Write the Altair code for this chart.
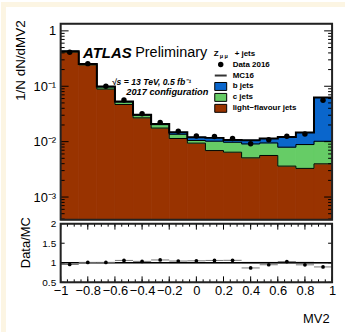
import altair as alt
import numpy as np
import pandas as pd

# ---- data: normalised MV2 distribution, 15 equal bins on [-1, 1] ----
n_bins = 15
edges = np.linspace(-1.0, 1.0, n_bins + 1)

light_jets = [0.415, 0.243, 0.089, 0.0469, 0.0269, 0.0176, 0.0114, 0.0094,
              0.0069, 0.00645, 0.0051, 0.00563, 0.00362, 0.00329, 0.00398]
c_jets = [0.012, 0.009, 0.0085, 0.0052, 0.0032, 0.0027, 0.0022, 0.0011,
          0.0033, 0.0033, 0.0040, 0.00385, 0.00432, 0.00558, 0.00618]
b_jets = [0.002, 0.0015, 0.0013, 0.0010, 0.0006, 0.0005, 0.00115, 0.0015,
          0.0015, 0.00098, 0.0015, 0.00189, 0.0042, 0.00569, 0.0525]
data_2016 = [0.41, 0.256, 0.0998, 0.0563, 0.0318, 0.0223, 0.0154, 0.0126,
             0.0124, 0.0114, 0.0092, 0.0108, 0.0125, 0.0138, 0.0560]
mc_stat_rel = [0.01, 0.01, 0.012, 0.012, 0.015, 0.015, 0.02, 0.02,
               0.02, 0.02, 0.025, 0.025, 0.025, 0.03, 0.02]

x_tick_labels = [-1, -0.8, -0.6, -0.4, -0.2, 0, 0.2, 0.4, 0.6, 0.8, 1]
ratio_tick_labels = [0.5, 1, 1.5, 2]
log_tick_labels = [0.001, 0.01, 0.1, 1]

# ---- layout / style ----
W, H_TOP, H_RAT = 273, 197, 59
Y_MIN, Y_MAX = 3.9e-4, 1.34
FONT = "Liberation Sans"
COL_LIGHT, COL_C, COL_B = "#993300", "#66cc66", "#0a66cc"
CREAM = "#fcf5e3"

bins = pd.DataFrame({
    "lo": edges[:-1], "hi": edges[1:], "mid": 0.5 * (edges[:-1] + edges[1:]),
    "light": light_jets, "c": c_jets, "b": b_jets,
    "data": data_2016, "stat": mc_stat_rel,
})
bins["lc"] = bins["light"] + bins["c"]
bins["total"] = bins["lc"] + bins["b"]
bins["ratio"] = bins["data"] / bins["total"]
bins["band_lo"] = 1 - bins["stat"]
bins["band_hi"] = 1 + bins["stat"]

# step outlines need one extra point at the upper edge
steps = pd.DataFrame({"x": edges})
for col in ["light", "lc", "total"]:
    steps[col] = list(bins[col]) + [bins[col].iloc[-1]]

one = pd.DataFrame({"k": [0]})

xs = alt.Scale(domain=[-1, 1], nice=False, zero=False)
ys_top = alt.Scale(type="log", domain=[Y_MIN, Y_MAX], nice=False)
ys_rat = alt.Scale(domain=[0.5, 2], nice=False, zero=False)

# the same axis object goes on every layer sharing a scale, so they merge
AX_TOP_Y = alt.Axis(
    values=log_tick_labels,
    labelExpr="datum.value >= 1 ? '1' : datum.value >= 0.1 ? '10\u207b\u00b9' : "
              "datum.value >= 0.01 ? '10\u207b\u00b2' : '10\u207b\u00b3'",
    tickSize=0, domain=False, grid=False, labelFontSize=13, labelPadding=5,
    labelColor="black", labelFont=FONT,
    title="1/N dN/dMV2", titleFont=FONT, titleFontSize=13.5, titleFontWeight="normal",
    titleColor="black", titleAngle=-90, titleAlign="right", titleBaseline="middle",
    titleX=-40, titleY=-4)
AX_RAT_X = alt.Axis(
    values=x_tick_labels,
    labelExpr="datum.value < 0 ? '\u2212' + format(-datum.value, '~g') : format(datum.value, '~g')",
    tickSize=0, domain=False, grid=False, labelFontSize=13, labelPadding=2,
    labelFlush=False, labelOverlap=False, labelColor="black", labelFont=FONT,
    title="MV2", titleFont=FONT, titleFontSize=13, titleFontWeight="normal",
    titleColor="black", titleAnchor="end", titleAlign="right", titleBaseline="middle",
    titleX=270, titleY=36)
AX_RAT_Y = alt.Axis(
    values=ratio_tick_labels, labelExpr="format(datum.value, '~g')",
    tickSize=0, domain=False, grid=False,
    labelFontSize=10, labelPadding=5, labelColor="black", labelFont=FONT,
    title="Data/MC", titleFont=FONT, titleFontSize=13, titleFontWeight="normal",
    titleColor="black", titleAngle=-90, titleAlign="right", titleBaseline="middle",
    titleX=-35, titleY=-7)

# tick positions for the inward-pointing frame ticks
log_minor = [k * 10.0 ** e for e in range(-4, 1) for k in range(2, 10)
             if Y_MIN <= k * 10.0 ** e <= Y_MAX]
x_minor = [round(-1 + 0.05 * i, 3) for i in range(41)]


def rules_y(values, scale, axis, length, right=False):
    df = pd.DataFrame({"v": values})
    x0 = W - length if right else 0
    x1 = W if right else length
    return alt.Chart(df).mark_rule(color="black", strokeWidth=1).encode(
        y=alt.Y("v:Q", scale=scale, axis=axis),
        x=alt.value(x0), x2=alt.value(x1))


def rules_x(values, height, length, top=True):
    df = pd.DataFrame({"v": values})
    y0 = 0 if top else height - length
    y1 = length if top else height
    return alt.Chart(df).mark_rule(color="black", strokeWidth=1).encode(
        x=alt.X("v:Q", scale=xs, axis=AX_RAT_X),
        y=alt.value(y0), y2=alt.value(y1))


def frame(height):
    return alt.Chart(one).mark_rect(filled=False, stroke="#222222", strokeWidth=2).encode(
        x=alt.value(0), x2=alt.value(W), y=alt.value(0), y2=alt.value(height))


def text(t, x, y, size, weight="normal", style="normal", align="left"):
    return alt.Chart(one).mark_text(
        text=t, font=FONT, fontSize=size, fontWeight=weight, fontStyle=style,
        align=align, baseline="middle", color="black").encode(
        x=alt.value(x), y=alt.value(y))


def box(x0, x1, y0, y1, fill):
    return alt.Chart(one).mark_rect(fill=fill, stroke="black", strokeWidth=1).encode(
        x=alt.value(x0), x2=alt.value(x1), y=alt.value(y0), y2=alt.value(y1))


# ---- top panel ----
cream_top = alt.Chart(one).mark_rect(color=CREAM).encode(
    x=alt.value(-60), x2=alt.value(W + 13), y=alt.value(-22), y2=alt.value(-17))
cream_left_top = alt.Chart(one).mark_rect(color=CREAM).encode(
    x=alt.value(-60), x2=alt.value(-55), y=alt.value(-17), y2=alt.value(H_TOP + 2))

base = alt.Chart(bins)
# a same-coloured hairline stroke hides the seams between neighbouring bins
light_rect = base.mark_rect(fill=COL_LIGHT, stroke=COL_LIGHT, strokeWidth=0.8).encode(
    x=alt.X("lo:Q", scale=xs, axis=None), x2="hi:Q",
    y=alt.Y("light:Q", scale=ys_top, axis=AX_TOP_Y),
    y2=alt.value(H_TOP))
c_rect = base.mark_rect(fill=COL_C, stroke=COL_C, strokeWidth=0.8).encode(
    x=alt.X("lo:Q", scale=xs, axis=None), x2="hi:Q",
    y=alt.Y("lc:Q", scale=ys_top, axis=AX_TOP_Y), y2="light:Q")
b_rect = base.mark_rect(fill=COL_B, stroke=COL_B, strokeWidth=0.8).encode(
    x=alt.X("lo:Q", scale=xs, axis=None), x2="hi:Q",
    y=alt.Y("total:Q", scale=ys_top, axis=AX_TOP_Y), y2="lc:Q")


def step_line(col, width):
    return alt.Chart(steps).mark_line(interpolate="step-after", color="black",
                                      strokeWidth=width).encode(
        x=alt.X("x:Q", scale=xs, axis=None),
        y=alt.Y(f"{col}:Q", scale=ys_top, axis=AX_TOP_Y))


data_pts = base.mark_circle(color="black", size=30, opacity=1).encode(
    x=alt.X("mid:Q", scale=xs, axis=None),
    y=alt.Y("data:Q", scale=ys_top, axis=AX_TOP_Y))

LX0, LX1, LTX = 155, 167, 173
legend_layers = [
    text("Z", 154, 30, 8, "bold"),
    text("\u03bc \u03bc", 160, 32, 5.5, "bold"),
    text("+ jets", 175, 30, 8, "bold"),
    alt.Chart(one).mark_circle(color="black", size=30, opacity=1).encode(
        x=alt.value(161), y=alt.value(41)),
    text("Data 2016", LTX, 41, 8, "bold"),
    alt.Chart(one).mark_rule(color="#333333", strokeWidth=2).encode(
        x=alt.value(LX0), x2=alt.value(LX1), y=alt.value(52)),
    text("MC16", LTX, 52, 8, "bold"),
    box(LX0, LX1, 59, 67, COL_B), text("b jets", LTX, 63, 8, "bold"),
    box(LX0, LX1, 70, 78, COL_C), text("c jets", LTX, 74, 8, "bold"),
    box(LX0, LX1, 81, 89, COL_LIGHT), text("light\u2212flavour jets", LTX, 85, 8, "bold"),
]

annot_layers = [
    text("ATLAS", 22.5, 29, 15, "bold", "italic"),
    text("Preliminary", 75, 29, 14.5),
    text("\u221as  = 13 TeV, 0.5 fb\u207b\u00b9", 51.5, 58.5, 8.7, "bold", "italic"),
    text("2017 configuration", 66, 69, 9.3, "bold", "italic"),
]

top = alt.layer(
    cream_top, cream_left_top,
    light_rect, c_rect, b_rect,
    step_line("light", 1), step_line("lc", 1), step_line("total", 2),
    data_pts,
    rules_y(log_tick_labels, ys_top, AX_TOP_Y, 8), rules_y(log_minor, ys_top, AX_TOP_Y, 4),
    rules_y(log_tick_labels, ys_top, AX_TOP_Y, 8, right=True),
    rules_y(log_minor, ys_top, AX_TOP_Y, 4, right=True),
    frame(H_TOP),
    *annot_layers, *legend_layers,
).properties(width=W, height=H_TOP)

# ---- ratio panel ----
cream_left_rat = alt.Chart(one).mark_rect(color=CREAM).encode(
    x=alt.value(-60), x2=alt.value(-55), y=alt.value(-10), y2=alt.value(H_RAT + 50))

rbase = alt.Chart(bins)
band = rbase.mark_rect(color="#bbbbbb").encode(
    x=alt.X("lo:Q", scale=xs, axis=AX_RAT_X), x2="hi:Q",
    y=alt.Y("band_lo:Q", scale=ys_rat, axis=AX_RAT_Y), y2="band_hi:Q")
unity = alt.Chart(one).mark_rule(color="black", strokeWidth=1.5).encode(
    x=alt.value(0), x2=alt.value(W),
    y=alt.YDatum(datum=1, scale=ys_rat, axis=AX_RAT_Y))
xerr = rbase.mark_rule(color="#777777", strokeWidth=1).encode(
    x=alt.X("lo:Q", scale=xs, axis=AX_RAT_X), x2="hi:Q",
    y=alt.Y("ratio:Q", scale=ys_rat, axis=AX_RAT_Y))
rpts = rbase.mark_circle(color="black", size=14, opacity=1).encode(
    x=alt.X("mid:Q", scale=xs, axis=AX_RAT_X),
    y=alt.Y("ratio:Q", scale=ys_rat, axis=AX_RAT_Y))

ratio = alt.layer(
    cream_left_rat, band, unity, xerr, rpts,
    rules_x(x_tick_labels, H_RAT, 6, top=True), rules_x(x_minor, H_RAT, 3, top=True),
    rules_x(x_tick_labels, H_RAT, 6, top=False), rules_x(x_minor, H_RAT, 3, top=False),
    rules_y(ratio_tick_labels, ys_rat, AX_RAT_Y, 4),
    rules_y(ratio_tick_labels, ys_rat, AX_RAT_Y, 4, right=True),
    frame(H_RAT),
).properties(width=W, height=H_RAT)

chart = alt.vconcat(top, ratio, spacing=4, bounds="flush").properties(
    background="white", padding=0, autosize=alt.AutoSizeParams(type="pad")
).configure_view(stroke=None).configure(font=FONT)

chart.save("out.html", embed_options={"renderer": "svg", "actions": False})
